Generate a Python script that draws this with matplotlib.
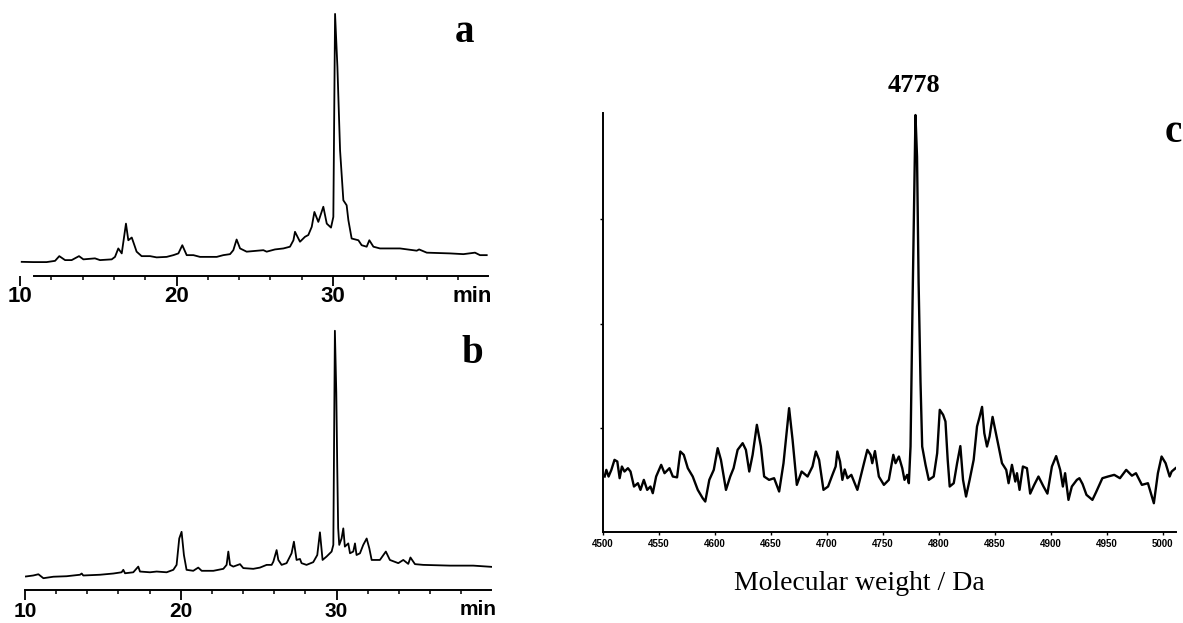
#!/usr/bin/env python3
"""HPLC traces (a, b) and mass spectrum (c) of the purified peptide."""
import matplotlib

matplotlib.use("Agg")
import matplotlib.pyplot as plt
from matplotlib.ticker import FixedLocator

SANS = ["Liberation Sans Narrow", "Liberation Sans", "DejaVu Sans"]
SERIF = ["Liberation Serif", "DejaVu Serif"]

# chromatogram a: retention time (min) vs absorbance (% of main peak)
A_TIME = [10.11, 10.85, 11.70, 12.24, 12.51, 12.88, 13.30, 13.77, 14.05, 14.79,
          15.11, 15.86, 16.07, 16.28, 16.50, 16.77, 16.92, 17.14, 17.31, 17.45,
          17.77, 18.31, 18.73, 19.37, 19.80, 20.12, 20.37, 20.65, 21.08, 21.50,
          22.57, 22.99, 23.42, 23.63, 23.84, 24.06, 24.48, 25.55, 25.76, 26.29,
          26.83, 27.25, 27.47, 27.57, 27.89, 28.21, 28.42, 28.64, 28.81, 29.06,
          29.38, 29.60, 29.87, 30.02, 30.13, 30.28, 30.45, 30.66, 30.87, 30.98,
          31.19, 31.62, 31.83, 32.15, 32.32, 32.58, 33.00, 34.28, 35.35, 35.50,
          35.99, 37.48, 38.33, 39.07, 39.39, 39.82]
A_SIGNAL = [0.1, 0, 0, 0.5, 2.4, 0.8, 0.8, 2.4, 1.1, 1.5,
            0.8, 1.1, 2.1, 5.5, 3.5, 15.5, 8.8, 9.9, 6.8, 4.2,
            2.4, 2.4, 1.9, 2.1, 2.8, 3.5, 6.8, 2.8, 2.8, 2.1,
            2.1, 2.8, 3.2, 4.8, 9.1, 5.5, 4.2, 4.8, 4.2, 5.1,
            5.5, 6.2, 8.8, 12.2, 8.2, 10.2, 10.9, 14.2, 20.2, 16.2,
            22.3, 15.5, 13.9, 18.2, 100, 78.6, 45.0, 24.9, 22.9, 16.9,
            9.5, 8.8, 6.8, 6.2, 8.8, 6.2, 5.5, 5.5, 4.6, 5.1,
            3.8, 3.5, 3.2, 3.8, 2.8, 2.8]

# chromatogram b
B_TIME = [10.06, 10.53, 10.86, 11.18, 11.82, 12.67, 13.53, 13.64, 13.74, 14.81,
          15.67, 16.20, 16.31, 16.42, 16.95, 17.27, 17.38, 18.02, 18.45, 19.09,
          19.52, 19.73, 19.90, 20.05, 20.20, 20.37, 20.80, 21.12, 21.34, 22.09,
          22.73, 22.94, 23.05, 23.16, 23.37, 23.80, 24.01, 24.65, 25.08, 25.51,
          25.83, 25.94, 26.15, 26.26, 26.47, 26.79, 27.11, 27.26, 27.43, 27.65,
          27.75, 28.07, 28.50, 28.76, 28.93, 29.10, 29.36, 29.68, 29.79, 29.89,
          29.98, 30.04, 30.10, 30.17, 30.32, 30.43, 30.53, 30.75, 30.86, 31.07,
          31.18, 31.28, 31.50, 31.71, 31.93, 32.10, 32.25, 32.78, 33.16, 33.42,
          33.96, 34.28, 34.60, 34.74, 35.03, 35.56, 37.27, 38.77, 39.95]
B_SIGNAL = [0.4, 0.8, 1.3, -0.3, 0.3, 0.5, 1.1, 1.6, 0.8, 1.1,
            1.6, 2.1, 3.1, 1.7, 2.1, 4.4, 2.4, 2.1, 2.4, 2.1,
            3.1, 5.1, 15.8, 18.5, 9.1, 3.1, 2.7, 4.0, 2.7, 2.7,
            3.5, 5.1, 10.5, 5.1, 4.4, 5.4, 3.8, 3.5, 4.0, 5.1,
            5.1, 6.4, 11.1, 7.1, 5.1, 5.8, 9.8, 14.5, 7.1, 7.5,
            5.8, 5.1, 6.2, 9.1, 18.3, 7.1, 8.5, 10.5, 13.2, 100,
            75, 45.4, 20, 13.2, 15.8, 19.9, 12.5, 13.8, 9.8, 10.5,
            13.8, 9.1, 9.8, 13.2, 15.8, 11.8, 7.1, 7.1, 10.5, 7.1,
            5.8, 7.1, 5.5, 8.1, 5.4, 5.1, 4.8, 4.8, 4.3]

TIME_MAJOR = [10, 20, 30]
TIME_MINOR = [12, 14, 16, 18, 22, 24, 26, 28, 32, 34, 36, 38]

# spectrum c: molecular weight (Da) vs relative intensity (%)
C_MASS = [4501.5, 4503, 4505, 4507.5, 4510.3, 4512.8, 4514.9, 4516.9, 4519.2, 4522.3,
          4524.6, 4527.7, 4531.2, 4533.5, 4536.5, 4539.5, 4542.4, 4544.5, 4547.5, 4552,
          4555, 4559.4, 4562.4, 4566.2, 4569.1, 4572.2, 4575.8, 4580.2, 4584.7, 4589.1,
          4591.4, 4595, 4599, 4602.5, 4605.4, 4609.9, 4613.7, 4616.7, 4620.3, 4624.8,
          4627.7, 4630.7, 4633.7, 4637.5, 4641.1, 4644, 4648.4, 4652.9, 4657.4, 4661.3,
          4666.3, 4669.4, 4673.2, 4677.5, 4682.8, 4687.2, 4690.2, 4693.1, 4697, 4701.1,
          4705, 4707.9, 4709.4, 4711.8, 4713.9, 4716, 4718.4, 4721.9, 4724.9, 4727.3,
          4730.2, 4733.2, 4736.2, 4739.1, 4740.6, 4743, 4746.5, 4751, 4755.4, 4759.4,
          4761.4, 4764.4, 4767.4, 4769.4, 4771.8, 4773.3, 4774.8, 4776.6, 4779.2, 4780.6,
          4782, 4783.7, 4785.2, 4788.2, 4791.1, 4795.5, 4798.6, 4800.9, 4803.9, 4806,
          4808, 4809.8, 4813.4, 4816.4, 4819.3, 4821.7, 4824.4, 4827.6, 4831.2, 4834.2,
          4836.5, 4838.7, 4840.7, 4843.1, 4845.4, 4848.1, 4850.5, 4853.5, 4856.5, 4860.3,
          4862.4, 4865.4, 4868.4, 4869.9, 4872.2, 4875.2, 4878.8, 4881.7, 4885.3, 4889.1,
          4893.6, 4897.1, 4901.1, 4904.9, 4908.5, 4910.9, 4912.9, 4915.9, 4918.9, 4923.4,
          4925.7, 4928.5, 4932, 4937.3, 4940.5, 4946.2, 4951.2, 4956.8, 4961.9, 4967.5,
          4972.6, 4976.2, 4981.5, 4986.9, 4992.2, 4995.8, 4999.1, 5002.7, 5006.3, 5008.1,
          5011.6]
C_SIGNAL = [13.3, 14.9, 13.3, 14.9, 17.3, 16.9, 12.9, 15.7, 14.5, 15.3,
            14.5, 10.9, 11.7, 10.1, 12.5, 10.1, 10.9, 9.3, 13.3, 16.1,
            14.1, 15.3, 13.3, 13.1, 19.3, 18.5, 15.3, 13.3, 10.1, 8.1,
            7.3, 12.5, 14.9, 20.1, 17.3, 10.1, 13.3, 15.3, 19.7, 21.3,
            19.7, 14.5, 18.5, 25.7, 20.5, 13.3, 12.5, 12.9, 9.7, 16.5,
            29.7, 22.1, 11.3, 14.5, 13.3, 15.7, 19.3, 17.3, 10.1, 10.9,
            13.7, 15.7, 19.3, 16.9, 12.5, 15.0, 12.9, 13.7, 11.7, 10.1,
            13.3, 16.5, 19.7, 18.5, 16.5, 19.4, 13.3, 11.3, 12.5, 18.5,
            16.5, 18.1, 15.3, 12.5, 13.7, 11.7, 20.5, 55, 100, 90,
            60, 36, 20.5, 16.1, 12.5, 13.3, 18.9, 29.3, 28.1, 26.5,
            17.3, 10.9, 11.7, 16.5, 20.6, 12.5, 8.5, 12.5, 17.3, 25.3,
            27.6, 30.0, 23.7, 20.5, 22.9, 27.6, 24.5, 20.5, 16.5, 14.9,
            11.7, 16.1, 12.1, 14.1, 10.1, 15.7, 15.3, 9.2, 11.3, 13.3,
            10.9, 9.2, 15.7, 18.2, 14.9, 10.9, 14.1, 7.7, 10.9, 12.5,
            12.9, 11.5, 8.9, 7.7, 9.5, 12.9, 13.3, 13.7, 12.9, 14.9,
            13.5, 14.1, 11.3, 11.7, 6.9, 14.1, 18.1, 16.5, 13.3, 14.5,
            15.3]

MASS_TICKS = [4500, 4550, 4600, 4650, 4700, 4750, 4800, 4850, 4900, 4950, 5000]
MAIN_PEAK = 4778


def draw_chromatogram(ax, times, signal, ylim, spine_start, pad, size, letter, letter_xy, min_xy):
    ax.plot(times, signal, color="black", lw=1.3)
    ax.set_xlim(10, 40)
    ax.set_ylim(*ylim)
    for side in ("top", "right", "left"):
        ax.spines[side].set_visible(False)
    ax.spines["bottom"].set_bounds(spine_start, 39.9)
    ax.spines["bottom"].set_linewidth(1.4)
    ax.set_yticks([])
    ax.set_xticks(TIME_MAJOR)
    ax.set_xticklabels([str(t) for t in TIME_MAJOR], family=SANS, weight="bold", fontsize=size)
    ax.xaxis.set_minor_locator(FixedLocator(TIME_MINOR))
    ax.tick_params(axis="x", which="major", length=7, width=1.3, pad=pad)
    ax.tick_params(axis="x", which="minor", length=3, width=1.1)
    ax.text(*min_xy, "min", transform=ax.transAxes, ha="center", va="baseline",
            family=SANS, weight="bold", fontsize=size)
    ax.text(*letter_xy, letter, transform=ax.transAxes, ha="center", va="baseline",
            family=SERIF, weight="bold", fontsize=28)


def draw_spectrum(ax):
    ax.plot(C_MASS, C_SIGNAL, color="black", lw=1.7)
    ax.set_xlim(4501, 5012)
    ax.set_ylim(0, 100.5)
    for side in ("top", "right"):
        ax.spines[side].set_visible(False)
    for side in ("left", "bottom"):
        ax.spines[side].set_linewidth(1.4)
    ax.set_yticks([25, 50, 75])
    ax.set_yticklabels([])
    ax.tick_params(axis="y", length=2, width=1)
    ax.set_xticks(MASS_TICKS)
    ax.set_xticklabels([str(m) for m in MASS_TICKS], family=SANS, weight="bold", fontsize=7)
    ax.tick_params(axis="x", length=2, width=1, pad=3)
    ax.text(MAIN_PEAK, 1.051, str(MAIN_PEAK), transform=ax.get_xaxis_transform(), ha="center",
            va="baseline", family=SERIF, weight="bold", fontsize=19, clip_on=False)


def main() -> None:
    fig = plt.figure(figsize=(11.83, 6.23), dpi=100)

    ax_a = fig.add_axes([0.01691, 0.5570, 0.3969, 0.4350])
    draw_chromatogram(ax_a, A_TIME, A_SIGNAL, (-5.6, 103.6), 10.9, 0.5, 16,
                      "a", (0.946, 0.863), (0.963, -0.096))

    ax_b = fig.add_axes([0.02113, 0.05250, 0.3951, 0.4340])
    draw_chromatogram(ax_b, B_TIME, B_SIGNAL, (-5.2, 104.4), 10.0, 1.5, 15,
                      "b", (0.956, 0.842), (0.969, -0.090))

    ax_c = fig.add_axes([0.5097, 0.1461, 0.4844, 0.6726])
    draw_spectrum(ax_c)

    fig.text(0.9990, 1 - 142 / 623, "c", ha="right", va="baseline",
             family=SERIF, weight="bold", fontsize=28)
    fig.text(0.7261, 1 - 590 / 623, "Molecular weight / Da", ha="center", va="baseline",
             family=SERIF, fontsize=20)

    fig.savefig("out.png", dpi=100)
    plt.close(fig)


if __name__ == "__main__":
    main()
